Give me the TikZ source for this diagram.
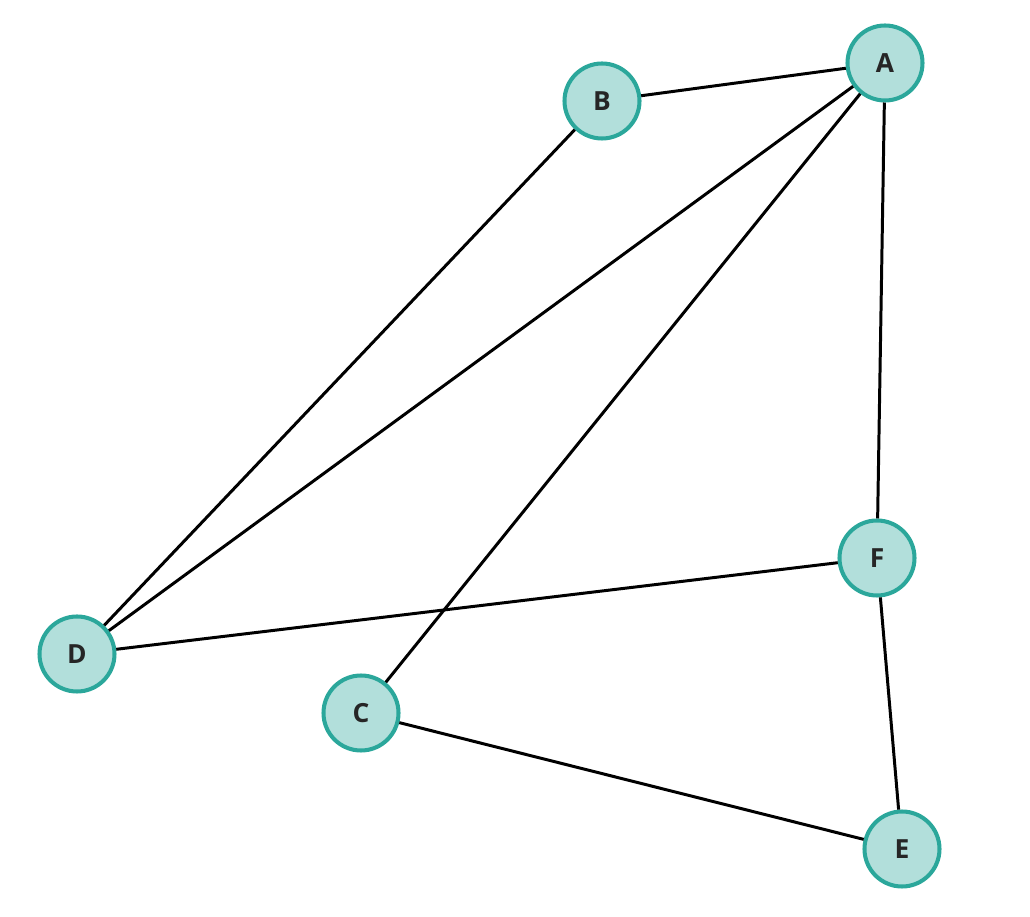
\documentclass[tikz,border=0pt]{standalone}
\usepackage{fontspec}
\setmainfont{Open Sans}
\definecolor{tealfill}{HTML}{B2DFDB}
\definecolor{tealdraw}{HTML}{2BA79B}
\begin{document}
\begin{tikzpicture}[% styles for the whole graph
					every node/.style={
						circle,
						fill=tealfill,
						draw=tealdraw,
						line width=2.3pt,
						minimum size=1.5cm,	% circle of about 78px
						font=\bfseries\fontsize{15}{18}\selectfont,
						text=black!85
						},
					every edge/.style={draw,line width=1.7pt}
					]
\useasboundingbox (0,0) rectangle (20.6,18.32);
\node(A) at (17.7,17.06){A};
\node(B) at (12.04,16.3){B};
\node(D) at (1.54,5.24){D};
\node(C) at (7.22,4.06){C};
\node(F) at (17.54,7.16){F};
\node(E) at (18.04,1.34){E};
\path
(A)edge [] (B)
(A)edge [] (D)
(A)edge [] (C)
(A)edge [] (F)
(B)edge [] (D)
(D)edge [] (F)
(F)edge [] (E)
(C)edge [] (E)
;
\end{tikzpicture}
\end{document}
